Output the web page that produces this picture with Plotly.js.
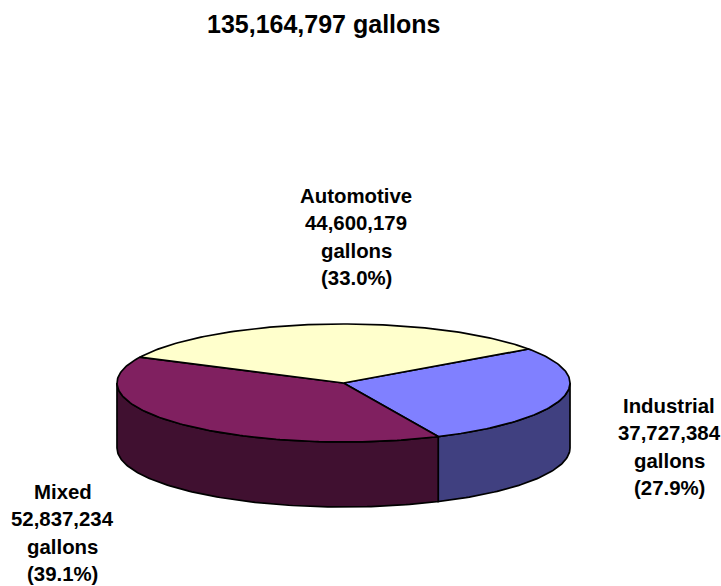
<!DOCTYPE html>
<html>
<head>
<meta charset="utf-8">
<script src="https://cdn.plot.ly/plotly-3.0.0.min.js"></script>
<style>html,body{margin:0;padding:0;background:#fff}</style>
</head>
<body>
<div id="chart" style="width:721px;height:586px"></div>
<script>
// Values per sector, listed clockwise from the sector that starts at the right of the pie
var categories = ['Industrial', 'Mixed', 'Automotive'];
var gallons = [37727384, 52837234, 44600179];
var percents = ['27.9', '39.1', '33.0'];
var valueLabels = ['37,727,384', '52,837,234', '44,600,179'];
var totalLabel = '135,164,797 gallons';

var topColors = ['#8080FF', '#802060', '#FFFFCC'];
var sideColors = ['#404080', '#401030', '#808066'];

// Tilted pie geometry in plot units (the axes run 1:1 with the page)
var cx = 343.5, cy = 383, rx = 226.5, ry = 59, depth = 65;
var startDeg = 54.8;
var labelCenters = [[669, 405.5], [62.5, 491.5], [356, 195.5]];
var labelStep = 27.6;

var total = gallons.reduce(function (a, b) { return a + b; }, 0);
function px(deg) { return cx + rx * Math.sin(deg * Math.PI / 180); }
function py(deg) { return cy - ry * Math.cos(deg * Math.PI / 180); }
function shape(xs, ys, color) {
  return {
    type: 'scatter', mode: 'lines', x: xs, y: ys, fill: 'toself', fillcolor: color,
    line: {color: '#000', width: 1.7}, hoverinfo: 'skip', showlegend: false
  };
}

var traces = [], tops = [], a = startDeg;
gallons.forEach(function (v, i) {
  var b = a + v / total * 360, xs, ys, d;
  // Outer wall: only the part of the rim that faces the viewer (90 to 270 degrees)
  var from = Math.max(a, 90), to = Math.min(b, 270);
  if (to > from) {
    xs = []; ys = [];
    for (d = from; d < to; d += 1) { xs.push(px(d)); ys.push(py(d)); }
    xs.push(px(to)); ys.push(py(to));
    for (d = to; d > from; d -= 1) { xs.push(px(d)); ys.push(py(d) + depth); }
    xs.push(px(from), px(from)); ys.push(py(from) + depth, py(from));
    traces.push(shape(xs, ys, sideColors[i]));
  }
  // Top face of the sector
  xs = [cx]; ys = [cy];
  for (d = a; d < b; d += 1) { xs.push(px(d)); ys.push(py(d)); }
  xs.push(px(b), cx); ys.push(py(b), cy);
  tops.push(shape(xs, ys, topColors[i]));
  a = b;
});
traces = traces.concat(tops);

// Each label line is placed on its own so the wide line spacing can be kept
var annotations = [];
function addText(text, x, y, size) {
  annotations.push({
    text: '<b>' + text + '</b>', x: x, y: y, xref: 'x', yref: 'y', showarrow: false,
    xanchor: 'center', yanchor: 'middle',
    font: {family: '"Liberation Sans", Arial, sans-serif', size: size, color: '#000'}
  });
}
addText(totalLabel, 323, 24, 25);
categories.forEach(function (c, i) {
  var lines = [c, valueLabels[i], 'gallons', '(' + percents[i] + '%)'];
  lines.forEach(function (t, j) {
    addText(t, labelCenters[i][0], labelCenters[i][1] + j * labelStep, 20.4);
  });
});

Plotly.newPlot('chart', traces, {
  width: 721, height: 586, margin: {l: 0, r: 0, t: 0, b: 0},
  paper_bgcolor: '#fff', plot_bgcolor: '#fff', showlegend: false,
  xaxis: {range: [0, 721], visible: false, fixedrange: true},
  yaxis: {range: [586, 0], visible: false, fixedrange: true},
  annotations: annotations
}, {staticPlot: true, displayModeBar: false});
</script>
</body>
</html>
